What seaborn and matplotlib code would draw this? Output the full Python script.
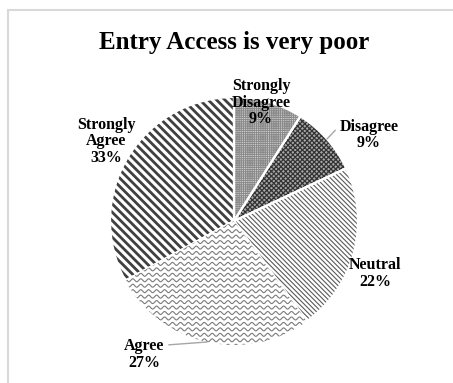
import numpy as np
import matplotlib
matplotlib.use("Agg")
import matplotlib.pyplot as plt
import seaborn as sns
from matplotlib.patches import Rectangle

# ---- data ----
categories = ["Strongly Disagree", "Disagree", "Neutral", "Agree", "Strongly Agree"]
values = [9, 9, 22, 27, 33]
pct_labels = ["9%", "9%", "22%", "27%", "33%"]
label_names = ["Strongly\nDisagree", "Disagree", "Neutral", "Agree", "Strongly\nAgree"]
title = "Entry Access is very poor"

# ---- style ----
sns.set_theme(style="white")
plt.rcParams["font.family"] = ["Liberation Serif", "DejaVu Serif"]
plt.rcParams["text.color"] = "black"

# fill styles per slice: (facecolor, hatch, hatchcolor, hatch linewidth)
styles = [
    ("#d8d8d8", "+" * 9, "#8a8a8a", 0.6),
    ("#a8a8a8", "x" * 7, "#333333", 0.9),
    ("white", "\\" * 7, "#5a5a5a", 0.8),
    ("white", None, None, None),        # wavy texture drawn below
    ("white", "\\" * 4, "#404040", 2.0),
]
# label positions (axes data units, pie radius = 1)
label_pos = [(0.218, 0.955), (1.089, 0.695), (1.137, -0.425),
             (-0.726, -1.075), (-1.032, 0.643)]
leader = [False, True, False, True, False]
leader_relpos = [None, (0.0, 0.78), None, (1.0, 0.78), None]

W, H = 453, 383
fig = plt.figure(figsize=(W / 100, H / 100), dpi=100)
cx, cy, r = 234, 221, 124
ax = fig.add_axes([(cx - r) / W, (H - cy - r) / H, 2 * r / W, 2 * r / H])

wedges, _ = ax.pie(values, startangle=90, counterclock=False, radius=1,
                   wedgeprops=dict(linewidth=0))
for w, (fc, hatch, hc, hlw) in zip(wedges, styles):
    w.set_facecolor(fc)
    if hatch:
        w.set_hatch(hatch)
        w.set_edgecolor(hc)
        w.set_linewidth(0)
        if hasattr(w, "set_hatch_linewidth"):
            w.set_hatch_linewidth(hlw)

# wavy texture for "Agree"
agree = wedges[categories.index("Agree")]
xs = np.linspace(-1.05, 1.05, 900)
for y0 in np.arange(-1.05, 1.05, 0.044):
    ln, = ax.plot(xs, y0 + 0.012 * np.sin(2 * np.pi * xs / 0.064),
                  color="#7a7a7a", lw=0.8)
    ln.set_clip_path(agree)

# white separators
ax.pie(values, startangle=90, counterclock=False, radius=1,
       wedgeprops=dict(fill=False, edgecolor="white", linewidth=1.6))
ax.set_xlim(-1, 1)
ax.set_ylim(-1, 1)
ax.set_aspect("equal")
ax.axis("off")

# labels
total = sum(values)
start = 90.0
for i, (name, pct) in enumerate(zip(label_names, pct_labels)):
    span = values[i] / total * 360
    mid = np.deg2rad(start - span / 2)
    start -= span
    txt = f"{name}\n{pct}"
    kw = dict(ha="center", va="center", fontsize=11.5, fontweight="bold",
              linespacing=1.05, color="black", annotation_clip=False)
    if leader[i]:
        ax.annotate(txt, xy=(np.cos(mid), np.sin(mid)), xytext=label_pos[i],
                    arrowprops=dict(arrowstyle="-", color="#a6a6a6", lw=1.0,
                                    relpos=leader_relpos[i], shrinkA=1, shrinkB=0),
                    **kw)
    else:
        ax.annotate(txt, xy=label_pos[i], **kw)

fig.text(cx / W, 1 - 43 / H, title, ha="center", va="center",
         fontsize=18, fontweight="bold", color="black")

fig.add_artist(Rectangle((8 / W, -0.1), 1.2, (H - 10) / H + 0.1,
                         transform=fig.transFigure, fill=False,
                         edgecolor="#d9d9d9", lw=1.5))

fig.savefig("out.png", dpi=100)
